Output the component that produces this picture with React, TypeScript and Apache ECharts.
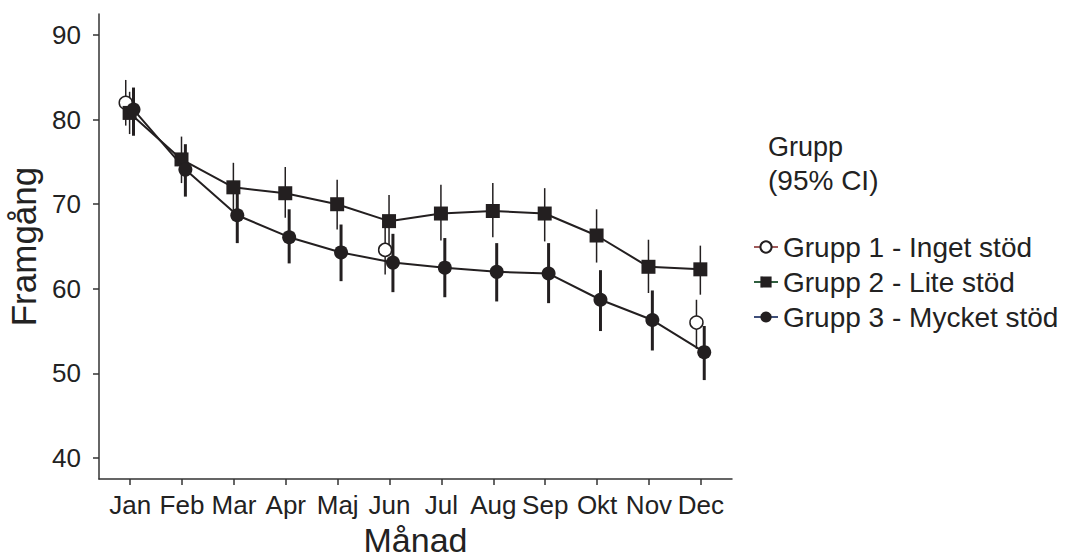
import React, { useEffect, useRef } from "react";
import * as echarts from "echarts";

const months = ["Jan", "Feb", "Mar", "Apr", "Maj", "Jun", "Jul", "Aug", "Sep", "Okt", "Nov", "Dec"];
const yTicks = [40, 50, 60, 70, 80, 90];

const g1Mean: (number | null)[] = [82.0, null, null, null, null, 64.6, null, null, null, null, null, 56.0];
const g1Lo: (number | null)[] = [79.3, null, null, null, null, 61.7, null, null, null, null, null, 52.9];
const g1Hi: (number | null)[] = [84.7, null, null, null, null, 67.5, null, null, null, null, null, 58.7];

const g2Mean = [80.8, 75.3, 72.0, 71.3, 70.0, 68.0, 68.9, 69.2, 68.9, 66.3, 62.6, 62.3];
const g2Lo = [78.3, 72.5, 69.1, 68.4, 67.0, 65.0, 65.7, 66.1, 65.6, 63.1, 59.5, 59.3];
const g2Hi = [83.3, 78.0, 74.9, 74.4, 72.9, 71.1, 72.3, 72.5, 71.9, 69.4, 65.8, 65.1];

const g3Mean = [81.2, 74.1, 68.7, 66.1, 64.3, 63.1, 62.5, 62.0, 61.8, 58.7, 56.3, 52.5];
const g3Lo = [78.1, 70.9, 65.4, 63.0, 60.9, 59.6, 59.0, 58.5, 58.3, 55.0, 52.7, 49.2];
const g3Hi = [83.8, 77.1, 72.0, 69.4, 67.6, 66.5, 66.0, 65.4, 65.4, 62.2, 59.8, 55.6];

const names = ["Grupp 1 - Inget stöd", "Grupp 2 - Lite stöd", "Grupp 3 - Mycket stöd"];
const offsets = [-0.085, -0.01, 0.065];

const INK = "#231f20";
const FONT = "Liberation Sans, Arial, sans-serif";

function pts(mean: (number | null)[], off: number) {
  return mean.map((v, i) => (v == null ? [i + 1 + off, null] : [i + 1 + off, v]));
}
function bars(lo: (number | null)[], hi: (number | null)[], off: number) {
  const out: number[][] = [];
  lo.forEach((l, i) => {
    const h = hi[i];
    if (l != null && h != null) out.push([i + 1 + off, l, h]);
  });
  return out;
}

export default function App() {
  const ref = useRef<HTMLDivElement>(null);
  useEffect(() => {
    if (!ref.current) return;
    const chart = echarts.init(ref.current, null, { renderer: "svg" });
    const barSeries = (data: number[][], width: number) => ({
      type: "custom",
      z: 1,
      silent: true,
      data,
      encode: { x: 0, y: [1, 2] },
      renderItem: (params: any, api: any) => {
        const x = api.value(0);
        const p1 = api.coord([x, api.value(1)]);
        const p2 = api.coord([x, api.value(2)]);
        return {
          type: "line",
          shape: { x1: p1[0], y1: p1[1], x2: p2[0], y2: p2[1] },
          style: { stroke: INK, lineWidth: width },
        };
      },
    });
    chart.setOption({
      animation: false,
      textStyle: { fontFamily: FONT },
      grid: { left: 99, right: 337, top: 14, bottom: 80, outerBoundsMode: "none" },
      xAxis: {
        type: "value",
        min: 0.4,
        max: 12.6,
        splitLine: { show: false },
        axisLine: { show: true, onZero: false, lineStyle: { color: "#333", width: 1.5 } },
        axisTick: { show: true, length: 6, lineStyle: { color: "#333", width: 1.5 }, customValues: months.map((_, i) => i + 1) },
        axisLabel: {
          customValues: months.map((_, i) => i + 1),
          formatter: (v: number) => months[Math.round(v) - 1] ?? "",
          color: "#222",
          fontSize: 26,
          margin: 13,
        },
        name: "Månad",
        nameLocation: "middle",
        nameGap: 44,
        nameTextStyle: { fontSize: 34, color: "#222" },
      },
      yAxis: {
        type: "value",
        min: 37.5,
        max: 92.5,
        splitLine: { show: false },
        axisLine: { show: true, lineStyle: { color: "#333", width: 1.5 } },
        axisTick: { show: true, length: 6, lineStyle: { color: "#333", width: 1.5 }, customValues: yTicks },
        axisLabel: { customValues: yTicks, color: "#222", fontSize: 26, margin: 18 },
        name: "Framgång",
        nameLocation: "middle",
        nameGap: 57,
        nameTextStyle: { fontSize: 35, color: "#222" },
      },
      legend: {
        orient: "vertical",
        left: 748,
        top: 228,
        itemWidth: 24,
        itemHeight: 14,
        itemGap: 7,
        textStyle: { fontSize: 28, color: "#222", lineHeight: 28 },
        data: [
          { name: names[0], lineStyle: { color: "#a05a5a" } },
          { name: names[1], lineStyle: { color: "#2f5f3f" } },
          { name: names[2], lineStyle: { color: "#3f4f7a" } },
        ],
      },
      graphic: [
        { type: "text", left: 768, top: 133, style: { text: "Grupp", fontSize: 27, fill: "#222", fontFamily: FONT } },
        { type: "text", left: 768, top: 166, style: { text: "(95% CI)", fontSize: 28, fill: "#222", fontFamily: FONT } },
      ],
      series: [
        barSeries(bars(g1Lo, g1Hi, offsets[0]), 1.5),
        barSeries(bars(g2Lo, g2Hi, offsets[1]), 1.5),
        barSeries(bars(g3Lo, g3Hi, offsets[2]), 3),
        {
          type: "line",
          name: names[0],
          z: 2,
          data: pts(g1Mean, offsets[0]),
          connectNulls: false,
          symbol: "circle",
          symbolSize: 13,
          showAllSymbol: true,
          lineStyle: { color: INK, width: 1.5 },
          itemStyle: { color: "#fff", borderColor: INK, borderWidth: 1.5 },
        },
        {
          type: "line",
          name: names[1],
          z: 3,
          data: pts(g2Mean, offsets[1]),
          symbol: "rect",
          symbolSize: 14,
          lineStyle: { color: INK, width: 2 },
          itemStyle: { color: INK },
        },
        {
          type: "line",
          name: names[2],
          z: 4,
          data: pts(g3Mean, offsets[2]),
          symbol: "circle",
          symbolSize: 14,
          lineStyle: { color: INK, width: 2 },
          itemStyle: { color: INK },
        },
      ],
    });
    return () => chart.dispose();
  }, []);
  return <div ref={ref} style={{ width: 1069, height: 559, position: "absolute", left: 0, top: 0 }} />;
}
